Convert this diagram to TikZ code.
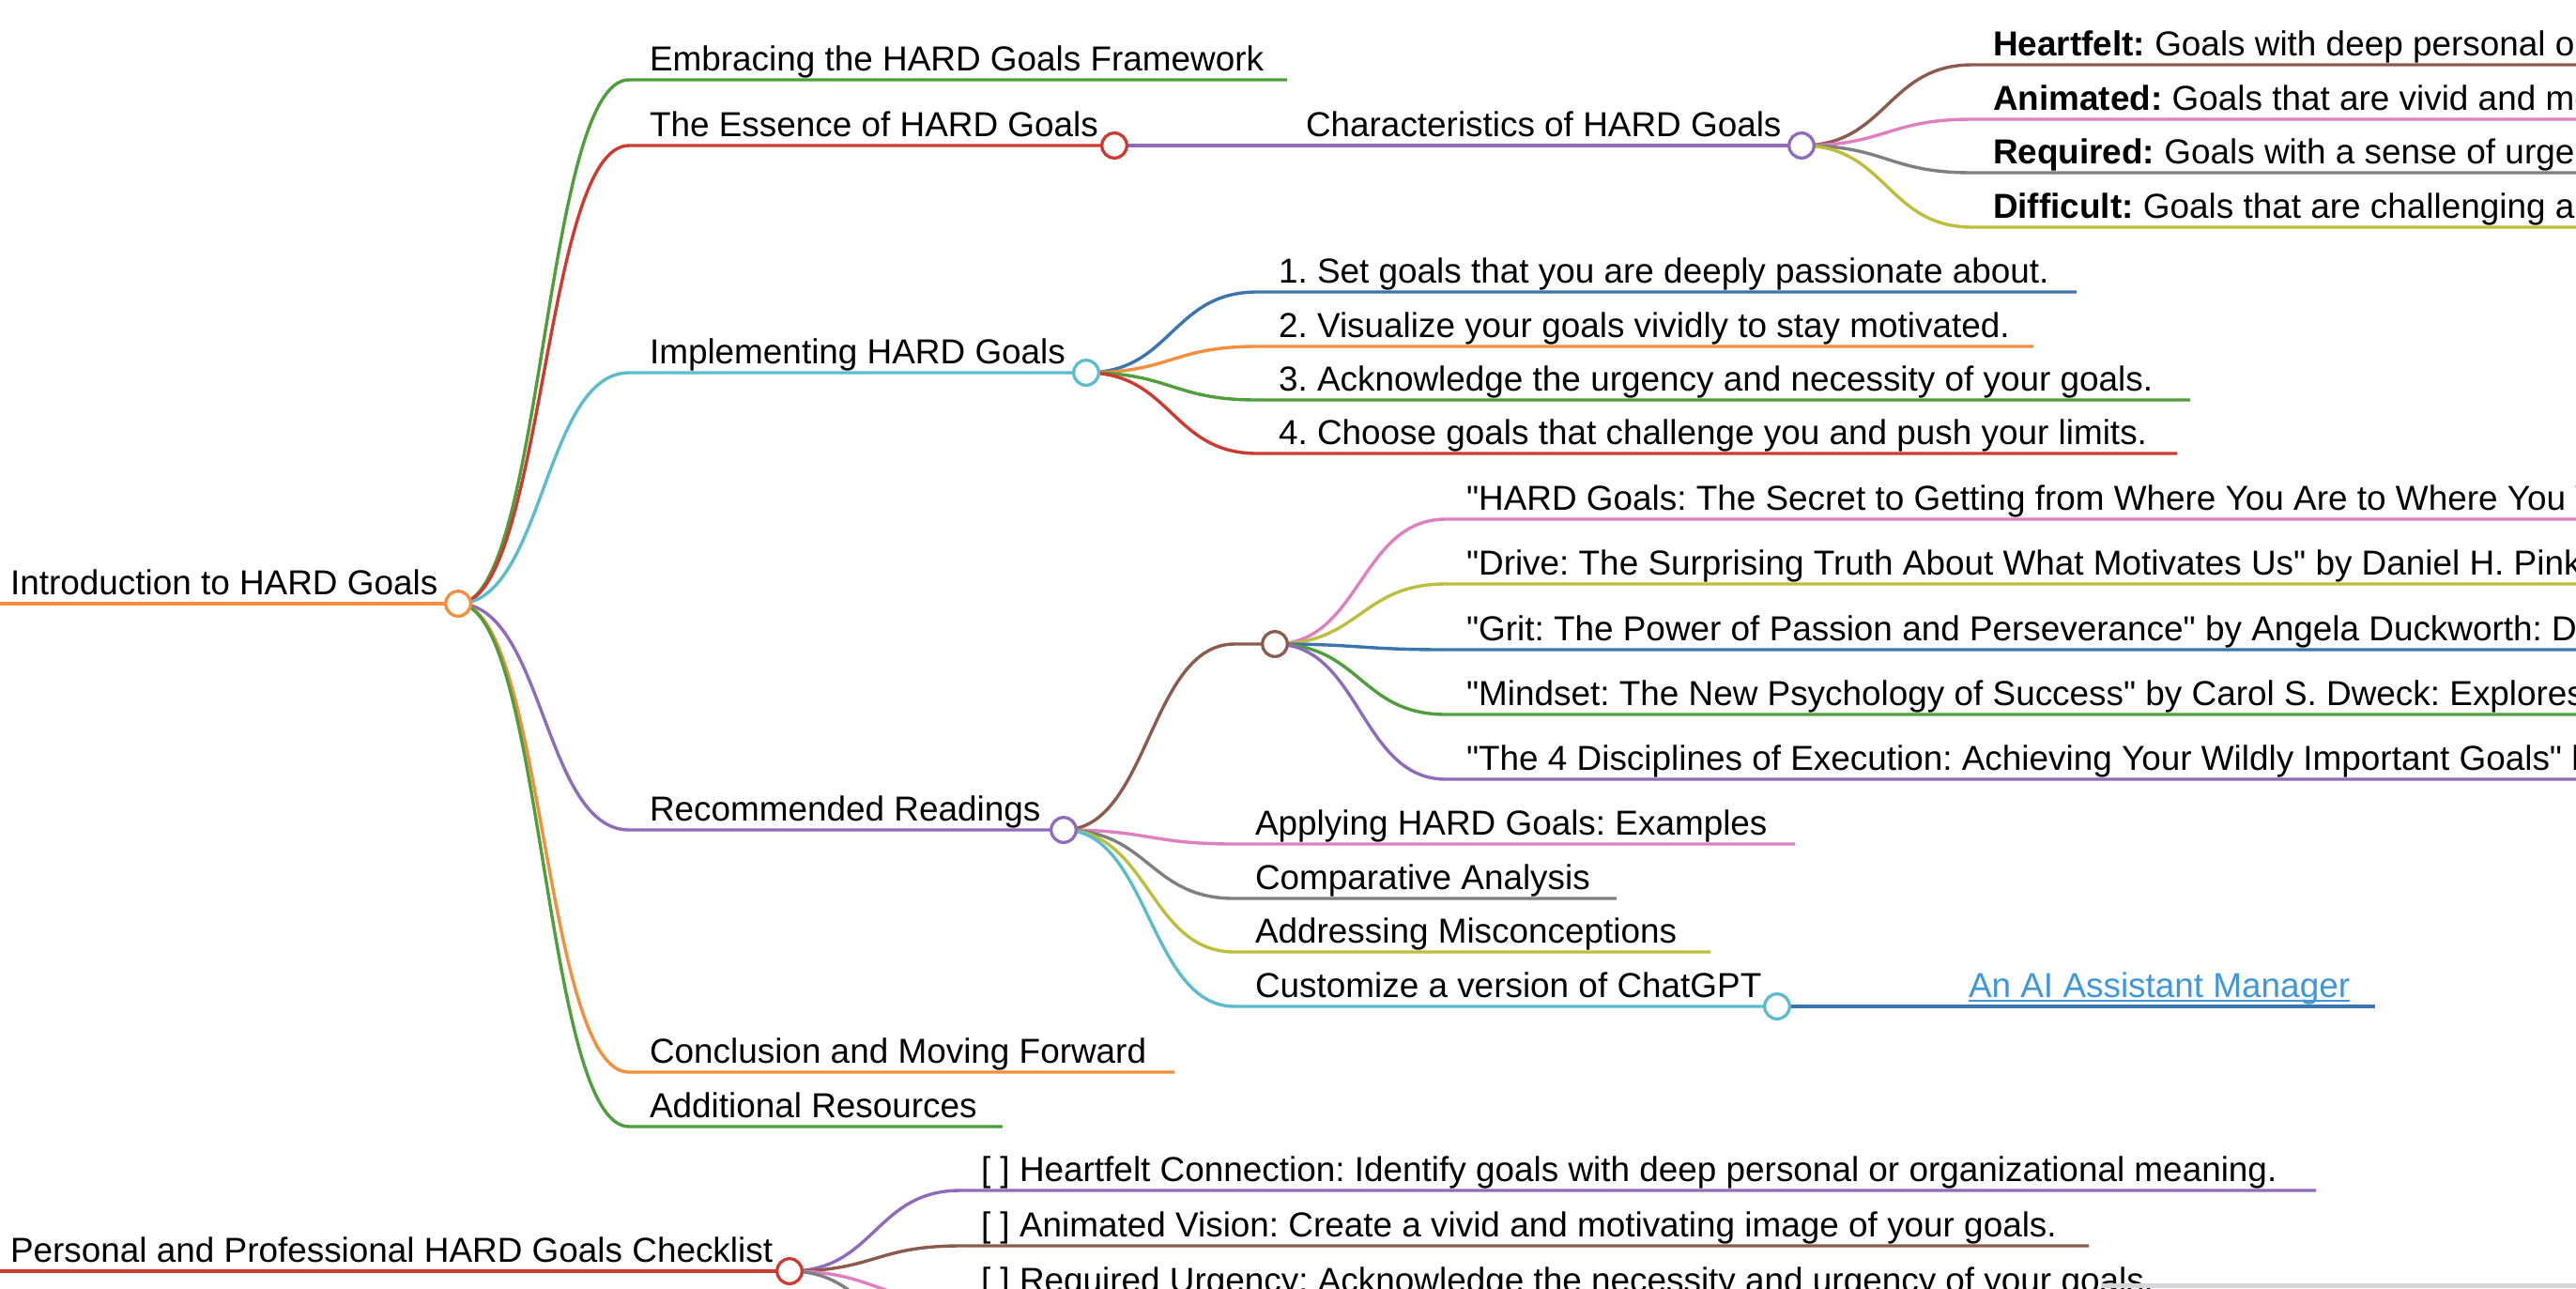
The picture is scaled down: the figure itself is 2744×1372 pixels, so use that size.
\documentclass[tikz,border=0pt]{standalone}
\usepackage{fontspec}
\setmainfont{Liberation Sans}[Ligatures=TeXOff]
\frenchspacing
\pgfdeclarelayer{bg}
\pgfdeclarelayer{edges}
\pgfsetlayers{bg,edges,main}
\definecolor{cOrange}{HTML}{F28E3C}
\definecolor{cGreen}{HTML}{4E9E3B}
\definecolor{cRed}{HTML}{CC3A30}
\definecolor{cCyan}{HTML}{5BBCCD}
\definecolor{cPurple}{HTML}{8F6BBB}
\definecolor{cBrown}{HTML}{8C5B4E}
\definecolor{cPink}{HTML}{DF7FC2}
\definecolor{cGray}{HTML}{7F7F7F}
\definecolor{cOlive}{HTML}{BDBE3B}
\definecolor{cBlue}{HTML}{3A75AE}
\definecolor{cLink}{HTML}{3F96DE}
\definecolor{cBar}{HTML}{D6D6DA}
\begin{document}
\begin{tikzpicture}[x=0.5pt,y=-0.5pt,
  lbl/.style={anchor=base west, inner sep=0pt, outer sep=0pt, font=\fontsize{18.45pt}{22pt}\selectfont, text=black},
  wire/.style={line width=1.7pt},
  dot/.style={circle, draw, fill=white, line width=1.65pt, minimum size=13.3pt, inner sep=0pt},
  kid/.style={wire, #1},
]
\useasboundingbox (0,0) rectangle (2744,1372);
\begin{pgfonlayer}{bg}
\fill[white] (0,0) rectangle (2744,1372);
\end{pgfonlayer}
\clip (0,0) rectangle (2744,1372);

% ---------- root ----------
\coordinate (rootS) at (0,643);
\node[lbl] (root) at (11,633) {Introduction to HARD Goals};
\node[dot, draw=cOrange] (rootc) at (488,643) {};

% root children
\coordinate (embS) at (670,85);  \coordinate (embE) at (1371,85);
\node[lbl] (emb) at (692,75) {Embracing the HARD Goals Framework};

\coordinate (essS) at (670,155);
\node[lbl] (ess) at (692,145) {The Essence of HARD Goals};
\node[dot, draw=cRed] (essc) at (1187,155) {};

\coordinate (chaS) at (1369,155);
\node[lbl] (cha) at (1391,145) {Characteristics of HARD Goals};
\node[dot, draw=cPurple] (chac) at (1919,155) {};

\coordinate (heaS) at (2101,69);  \coordinate (heaE) at (2800,69);
\coordinate (aniS) at (2101,127); \coordinate (aniE) at (2800,127);
\coordinate (reqS) at (2101,184); \coordinate (reqE) at (2800,184);
\coordinate (difS) at (2101,242); \coordinate (difE) at (2800,242);
\node[lbl] (hea) at (2123,59)  {\textbf{Heartfelt:} Goals with deep personal or organizational meaning.};
\node[lbl] (ani) at (2123,117) {\textbf{Animated:} Goals that are vivid and motivating.};
\node[lbl] (req) at (2123,174) {\textbf{Required:} Goals with a sense of urgency and necessity.};
\node[lbl] (dif) at (2123,232) {\textbf{Difficult:} Goals that are challenging and push your limits.};

\coordinate (impS) at (670,397);
\node[lbl] (imp) at (692,387) {Implementing HARD Goals};
\node[dot, draw=cCyan] (impc) at (1157,397) {};

\coordinate (i1S) at (1339,311); \coordinate (i1E) at (2212,311);
\coordinate (i2S) at (1339,369); \coordinate (i2E) at (2166,369);
\coordinate (i3S) at (1339,426); \coordinate (i3E) at (2333,426);
\coordinate (i4S) at (1339,483); \coordinate (i4E) at (2319,483);
\node[lbl] (i1) at (1362,301) {1. Set goals that you are deeply passionate about.};
\node[lbl] (i2) at (1362,359) {2. Visualize your goals vividly to stay motivated.};
\node[lbl] (i3) at (1362,416) {3. Acknowledge the urgency and necessity of your goals.};
\node[lbl] (i4) at (1362,473) {4. Choose goals that challenge you and push your limits.};

\coordinate (rrS) at (670,884);
\node[lbl] (rr) at (692,874) {Recommended Readings};
\node[dot, draw=cPurple] (rrc) at (1133,884) {};

\coordinate (bkS) at (1315,686);
\node[dot, draw=cBrown] (bkc) at (1358,686) {};

\coordinate (b1S) at (1540,553); \coordinate (b1E) at (2800,553);
\coordinate (b2S) at (1540,622); \coordinate (b2E) at (2800,622);
\coordinate (b3S) at (1540,692); \coordinate (b3E) at (2800,692);
\coordinate (b4S) at (1540,761); \coordinate (b4E) at (2800,761);
\coordinate (b5S) at (1540,830); \coordinate (b5E) at (2800,830);
\node[lbl] (b1) at (1562,543) {"HARD Goals: The Secret to Getting from Where You Are to Where You Want to Be"};
\node[lbl] (b2) at (1562,612) {"Drive: The Surprising Truth About What Motivates Us" by Daniel H. Pink: Explores motivation};
\node[lbl] (b3) at (1562,682) {"Grit: The Power of Passion and Perseverance" by Angela Duckworth: Discusses grit};
\node[lbl] (b4) at (1562,751) {"Mindset: The New Psychology of Success" by Carol S. Dweck: Explores mindsets};
\node[lbl] (b5) at (1562,820) {"The 4 Disciplines of Execution: Achieving Your Wildly Important Goals" by};

\coordinate (appS) at (1315,899);  \coordinate (appE) at (1912,899);
\coordinate (cmpS) at (1315,957);  \coordinate (cmpE) at (1722,957);
\coordinate (adrS) at (1315,1014); \coordinate (adrE) at (1822,1014);
\coordinate (cusS) at (1315,1072);
\node[lbl] (app) at (1337,889)  {Applying HARD Goals: Examples};
\node[lbl] (cmp) at (1337,947)  {Comparative Analysis};
\node[lbl] (adr) at (1337,1004) {Addressing Misconceptions};
\node[lbl] (cus) at (1337,1062) {Customize a version of ChatGPT};
\node[dot, draw=cCyan] (cusc) at (1893,1072) {};

\coordinate (lnkS) at (2075,1072); \coordinate (lnkE) at (2530,1072);
\node[lbl, text=cLink] (lnk) at (2097,1062) {An AI Assistant Manager};
\draw[cLink, line width=1.4pt] ([yshift=-2pt]lnk.base west) -- ([yshift=-2pt]lnk.base east);

\coordinate (conS) at (670,1142); \coordinate (conE) at (1251,1142);
\coordinate (addS) at (670,1200); \coordinate (addE) at (1068,1200);
\node[lbl] (con) at (692,1132) {Conclusion and Moving Forward};
\node[lbl] (add) at (692,1190) {Additional Resources};

% ---------- second root ----------
\coordinate (chkS) at (0,1354);
\node[lbl] (chk) at (11,1344) {Personal and Professional HARD Goals Checklist};
\node[dot, draw=cRed] (chkc) at (841,1354) {};

\coordinate (c1S) at (1023,1268); \coordinate (c1E) at (2467,1268);
\coordinate (c2S) at (1023,1327); \coordinate (c2E) at (2225,1327);
\coordinate (c3S) at (1023,1386); \coordinate (c3E) at (2340,1386);
\coordinate (c4S) at (1023,1445);
\node[lbl] (c1) at (1045,1258) {[ ] Heartfelt Connection: Identify goals with deep personal or organizational meaning.};
\node[lbl] (c2) at (1045,1317) {[ ] Animated Vision: Create a vivid and motivating image of your goals.};
\node[lbl] (c3) at (1045,1376) {[ ] Required Urgency: Acknowledge the necessity and urgency of your goals.};

\fill[cBar] (2238,1367) rectangle (2744,1372);

% ---------- connectors ----------
\begin{pgfonlayer}{edges}
\draw[wire, cOrange] (rootS) -- (rootc.center);
\draw[kid=cGreen]  (rootc.center) .. controls +(91,0) and +(-91,0) .. (embS) -- (embE);
\draw[kid=cRed]    (rootc.center) .. controls +(91,0) and +(-91,0) .. (essS) -- (essc.center);
\draw[kid=cCyan]   (rootc.center) .. controls +(91,0) and +(-91,0) .. (impS) -- (impc.center);
\draw[kid=cPurple] (rootc.center) .. controls +(91,0) and +(-91,0) .. (rrS) -- (rrc.center);
\draw[kid=cOrange] (rootc.center) .. controls +(91,0) and +(-91,0) .. (conS) -- (conE);
\draw[kid=cGreen]  (rootc.center) .. controls +(91,0) and +(-91,0) .. (addS) -- (addE);

\draw[kid=cPurple] (essc.center) -- (chaS) -- (chac.center);
\draw[kid=cBrown]  (chac.center) .. controls +(91,0) and +(-91,0) .. (heaS) -- (heaE);
\draw[kid=cPink]   (chac.center) .. controls +(91,0) and +(-91,0) .. (aniS) -- (aniE);
\draw[kid=cGray]   (chac.center) .. controls +(91,0) and +(-91,0) .. (reqS) -- (reqE);
\draw[kid=cOlive]  (chac.center) .. controls +(91,0) and +(-91,0) .. (difS) -- (difE);

\draw[kid=cBlue]   (impc.center) .. controls +(91,0) and +(-91,0) .. (i1S) -- (i1E);
\draw[kid=cOrange] (impc.center) .. controls +(91,0) and +(-91,0) .. (i2S) -- (i2E);
\draw[kid=cGreen]  (impc.center) .. controls +(91,0) and +(-91,0) .. (i3S) -- (i3E);
\draw[kid=cRed]    (impc.center) .. controls +(91,0) and +(-91,0) .. (i4S) -- (i4E);

\draw[kid=cBrown]  (rrc.center) .. controls +(91,0) and +(-91,0) .. (bkS) -- (bkc.center);
\draw[kid=cPink]   (rrc.center) .. controls +(91,0) and +(-91,0) .. (appS) -- (appE);
\draw[kid=cGray]   (rrc.center) .. controls +(91,0) and +(-91,0) .. (cmpS) -- (cmpE);
\draw[kid=cOlive]  (rrc.center) .. controls +(91,0) and +(-91,0) .. (adrS) -- (adrE);
\draw[kid=cCyan]   (rrc.center) .. controls +(91,0) and +(-91,0) .. (cusS) -- (cusc.center);

\draw[kid=cPink]   (bkc.center) .. controls +(91,0) and +(-91,0) .. (b1S) -- (b1E);
\draw[kid=cOlive]  (bkc.center) .. controls +(91,0) and +(-91,0) .. (b2S) -- (b2E);
\draw[kid=cBlue]   (bkc.center) .. controls +(91,0) and +(-91,0) .. (b3S) -- (b3E);
\draw[kid=cGreen]  (bkc.center) .. controls +(91,0) and +(-91,0) .. (b4S) -- (b4E);
\draw[kid=cPurple] (bkc.center) .. controls +(91,0) and +(-91,0) .. (b5S) -- (b5E);

\draw[kid=cBlue]   (cusc.center) -- (lnkS) -- (lnkE);

\draw[wire, cRed]  (chkS) -- (chkc.center);
\draw[kid=cPurple] (chkc.center) .. controls +(91,0) and +(-91,0) .. (c1S) -- (c1E);
\draw[kid=cBrown]  (chkc.center) .. controls +(91,0) and +(-91,0) .. (c2S) -- (c2E);
\draw[kid=cPink]   (chkc.center) .. controls +(91,0) and +(-91,0) .. (c3S) -- (c3E);
\draw[kid=cGray]   (chkc.center) .. controls +(91,0) and +(-91,0) .. (c4S);
\end{pgfonlayer}
\end{tikzpicture}
\end{document}
